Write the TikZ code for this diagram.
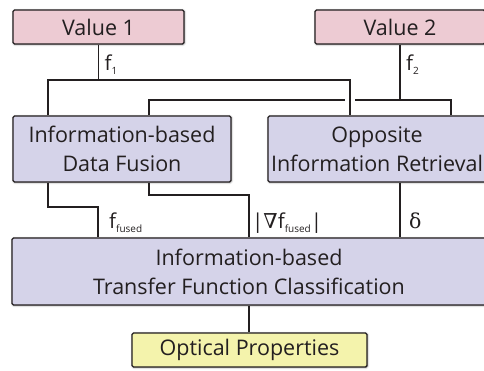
\documentclass[tikz,border=0pt]{standalone}
\usepackage{fontspec}
\setmainfont{Open Sans}
\newfontfamily\dvserif{DejaVu Serif}
\usetikzlibrary{shadows.blur}
\definecolor{pinkbox}{RGB}{237,203,211}
\definecolor{lavbox}{RGB}{213,211,233}
\definecolor{yelbox}{RGB}{244,243,172}
\definecolor{ink}{RGB}{35,31,32}
\newcommand\lbsub[1]{\raisebox{-0.4ex}{\fontsize{10}{10}\selectfont #1}}
\begin{document}
\begin{tikzpicture}[x=1pt,y=-1pt,
  box/.style={draw=ink, line width=1.4pt, rounded corners=1.5pt, inner sep=0pt,
    align=center, text=ink, font=\fontsize{21.5}{29}\selectfont,
    blur shadow={shadow blur steps=6, shadow xshift=0.5pt, shadow yshift=-0.5pt,
      shadow blur radius=2pt, shadow opacity=45}},
  wire/.style={line width=1.2pt, draw=ink},
  lab/.style={anchor=base west, inner sep=0pt, text=ink, font=\fontsize{20.5}{24}\selectfont}]
\useasboundingbox (0,0) rectangle (484,370);
\clip (0,0) rectangle (484,370);
% boxes
\node[box, fill=pinkbox, minimum width=171pt, minimum height=34pt] (v1) at (98.5,27) {Value 1};
\node[box, fill=pinkbox, minimum width=170pt, minimum height=34pt] (v2) at (400,27) {Value 2};
\node[box, fill=lavbox, minimum width=218pt, minimum height=66pt] (idf) at (122,149) {Information-based\\Data Fusion};
\node[box, fill=lavbox, minimum width=218pt, minimum height=66pt] (opp) at (377,149) {Opposite\\Information Retrieval};
\node[box, fill=lavbox, minimum width=474pt, minimum height=67pt] (tf) at (249,271.5) {Information-based\\Transfer Function Classification};
\node[box, fill=yelbox, minimum width=235pt, minimum height=34pt] (op) at (249.5,350) {Optical Properties};
% junction coordinates
\coordinate (j1) at (98.5,80);
\coordinate (j2) at (400,100);
\coordinate (ga) at (345,100);
\coordinate (gb) at (355,100);
% Value 1 feeds both
\draw[wire] (v1.south) -- (j1);
\draw[wire] (idf.north -| 48,0) |- (j1) -| (opp.north -| 350,0);
% Value 2 feeds both (with a gap at the crossing)
\draw[wire] (v2.south) -- (j2);
\draw[wire] (idf.north -| 149,0) |- (ga);
\draw[wire] (gb) -| (opp.north -| 451,0);
% to classification
\draw[wire] (idf.south -| 48,0) |- (98,207) -- (tf.north -| 98,0);
\draw[wire] (idf.south -| 149,0) |- (249,195) -- (tf.north -| 249,0);
\draw[wire] (opp.south -| 400,0) -- (tf.north -| 400,0);
\draw[wire] (tf.south -| 249,0) -- (op.north -| 249,0);
% labels
\node[lab] (lf1) at (104.5,70) {f\lbsub{1}};
\node[lab] (lf2) at (406,70) {f\lbsub{2}};
\node[lab] (lff) at (109,228) {f\lbsub{fused}};
\node[lab] (lgr) at (252,228) {|{\dvserif ∇}f\lbsub{fused}|};
\node[lab] (ld) at (409,228) {{\dvserif δ}};
\end{tikzpicture}
\end{document}
